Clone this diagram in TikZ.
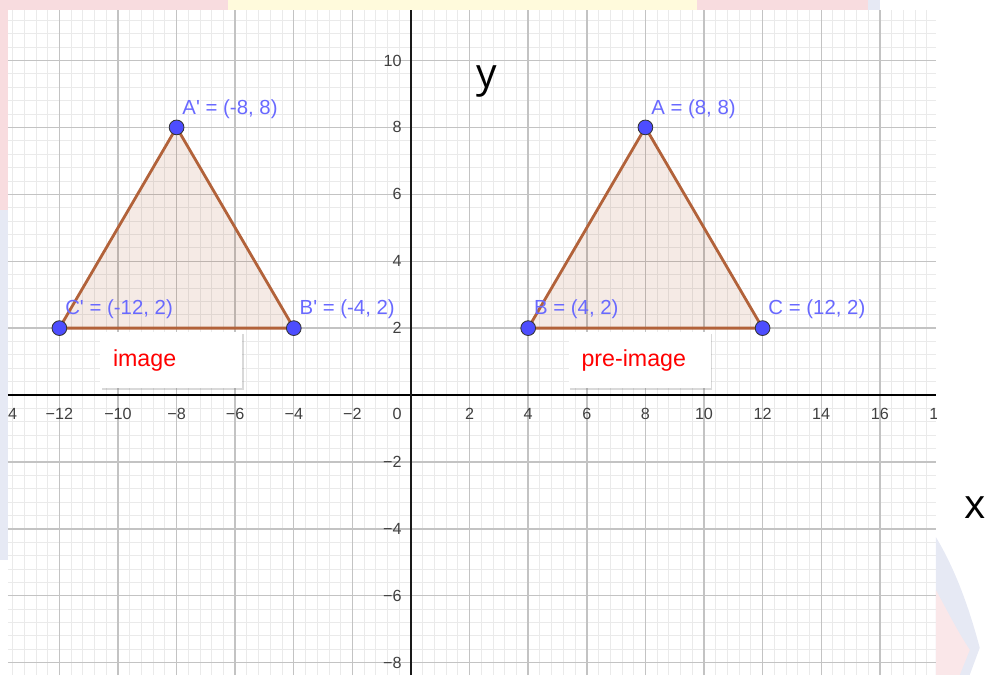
\documentclass[tikz,border=0pt]{standalone}
\usepackage{fontspec}
\setmainfont{Liberation Sans}
\newfontfamily\axisfont{Open Sans}
\usetikzlibrary{shadows}

\definecolor{ggblue}{RGB}{77,77,255}
\definecolor{gglabel}{RGB}{105,105,255}
\definecolor{ggbrown}{RGB}{178,98,58}
\definecolor{ggfill}{RGB}{153,51,0}
\definecolor{gridmajor}{RGB}{195,195,195}
\definecolor{gridminor}{RGB}{234,234,234}
\definecolor{wmpink}{RGB}{248,220,223}
\definecolor{wmyellow}{RGB}{255,250,220}
\definecolor{wmblue}{RGB}{230,233,244}

\begin{document}
\begin{tikzpicture}[x=0.7325cm, y=0.83625cm,
    pt/.style={circle, draw=black!80, fill=ggblue, line width=0.6pt, inner sep=0pt, minimum size=10.5pt},
    ptlabel/.style={text=gglabel, font=\fontsize{14.5}{16}\selectfont, anchor=base west, inner sep=0pt},
    tick/.style={text=black!75, font=\fontsize{11.5}{13}\selectfont, inner sep=0pt},
    tagbox/.style={fill=white, drop shadow={shadow xshift=1.2pt, shadow yshift=-1.5pt, opacity=0.3},
        inner xsep=0.325cm, text width=2.9cm, minimum height=1.4cm, align=left,
        text=red, font=\fontsize{16.5}{18}\selectfont},
    axislabel/.style={font=\axisfont\fontsize{29}{32}\selectfont, anchor=base, inner sep=0pt}]

    \useasboundingbox (-14.027,-8.371) rectangle (19.693,11.809);

    % faded background around the graph
    \begin{scope}[shift={(-10.275cm,9.875cm)}, x=0.025cm, y=-0.025cm]
        \fill[wmpink] (0,0) rectangle (880,10);
        \fill[wmyellow] (228,0) rectangle (697,10);
        \fill[wmblue] (868,0) rectangle (880,10);
        \fill[wmpink] (0,0) rectangle (8,210);
        \fill[wmblue] (0,210) rectangle (8,560);
        \fill[wmblue] (936,537) .. controls (956,570) and (970,610) .. (980,648) -- (970,675) -- (936,675) -- cycle;
        \fill[wmpink!70] (936,590) .. controls (948,612) and (958,632) .. (970,650) -- (960,675) -- (936,675) -- cycle;
    \end{scope}

    % grid
    \draw[gridminor, line width=0.6pt, step=0.4] (-13.754,-8.371) grid (17.918,11.51);
    \draw[gridmajor, line width=1pt, step=2] (-13.754,-8.371) grid (17.918,11.51);

    % axes
    \coordinate (xl) at (-13.754,0);
    \coordinate (xr) at (17.918,0);
    \coordinate (yb) at (0,-8.371);
    \coordinate (yt) at (0,11.51);
    \draw[black, line width=1.2pt] (xl) -- (xr);
    \draw[black!90, line width=2pt] (yb) -- (yt);

    % tick labels
    \begin{scope}
        \clip (-13.754,-8.371) rectangle (17.918,11.51);
        \foreach \v in {-12,-10,...,-2,2,4,...,18}
            \node[tick] (tx\v) at (\v,-0.57) {\ifnum\v<0 −\number\numexpr-\v\relax\else\v\fi};
        \foreach \v in {-8,-6,...,-2,2,4,...,10}
            \node[tick, anchor=east] (ty\v) at (-0.31,\v) {\ifnum\v<0 −\number\numexpr-\v\relax\else\v\fi};
        \node[tick, anchor=east] (t0) at (-0.31,-0.57) {0};
    \end{scope}
    \node[tick] (txcut) at (-13.6,-0.57) {4};

    % triangles
    \coordinate (A) at (8,8);
    \coordinate (B) at (4,2);
    \coordinate (C) at (12,2);
    \coordinate (Ap) at (-8,8);
    \coordinate (Bp) at (-4,2);
    \coordinate (Cp) at (-12,2);
    \filldraw[draw=ggbrown, fill=ggfill, fill opacity=0.1, line width=2pt, line join=round] (A) -- (B) -- (C) -- cycle;
    \filldraw[draw=ggbrown, fill=ggfill, fill opacity=0.1, line width=2pt, line join=round] (Ap) -- (Bp) -- (Cp) -- cycle;

    % tags
    \node[tagbox] (image) at (-8.19,1.046) {image};
    \node[tagbox] (preimage) at (7.80,1.046) {pre-image};

    % points and their labels
    \node[pt] (dotA) at (A) {};
    \node[pt] (dotB) at (B) {};
    \node[pt] (dotC) at (C) {};
    \node[pt] (dotAp) at (Ap) {};
    \node[pt] (dotBp) at (Bp) {};
    \node[pt] (dotCp) at (Cp) {};
    \node[ptlabel] (labA) at ([shift={(0.14cm,0.33cm)}]A) {A = (8, 8)};
    \node[ptlabel] (labB) at ([shift={(0.14cm,0.33cm)}]B) {B = (4, 2)};
    \node[ptlabel] (labC) at ([shift={(0.14cm,0.33cm)}]C) {C = (12, 2)};
    \node[ptlabel] (labAp) at ([shift={(0.14cm,0.33cm)}]Ap) {A\textquotesingle{} = (-8, 8)};
    \node[ptlabel] (labBp) at ([shift={(0.14cm,0.33cm)}]Bp) {B\textquotesingle{} = (-4, 2)};
    \node[ptlabel] (labCp) at ([shift={(0.14cm,0.33cm)}]Cp) {C\textquotesingle{} = (-12, 2)};

    % axis names
    \node[axislabel] (ylab) at (2.594,9.18) {y};
    \node[axislabel] (xlab) at (19.25,-3.677) {x};
\end{tikzpicture}
\end{document}
